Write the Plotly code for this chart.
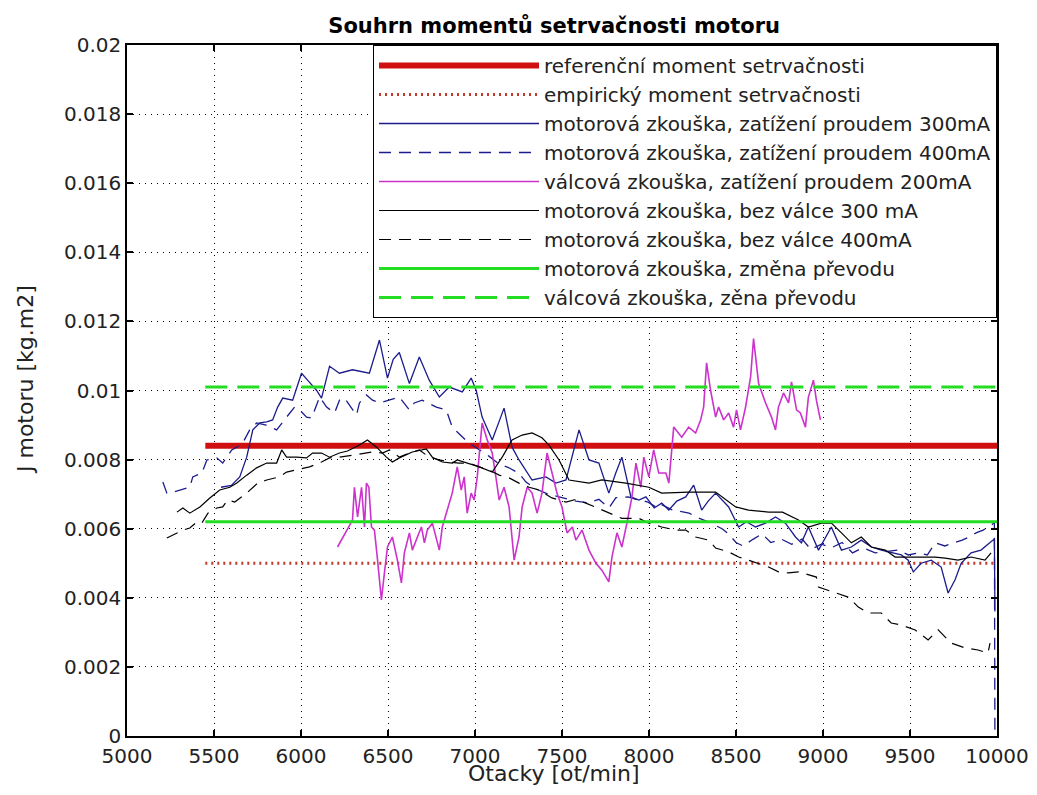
import plotly.graph_objects as go

# ---------------- data ----------------
ref_x = [5450, 10000]
ref_moment = [8.4e-3, 8.4e-3]            # referenční moment setrvačnosti
emp_moment = [5.0e-3, 5.0e-3]            # empirický moment setrvačnosti
motor_prevod = [6.2e-3, 6.2e-3]          # motorová zkouška, změna převodu
valec_prevod = [10.1e-3, 10.1e-3]        # válcová zkouška, zěna převodu

m300_x = [5540, 5600, 5648, 5688, 5723, 5763, 5803, 5837, 5866, 5895, 5952, 6003, 6038, 6090, 6118,
          6164, 6221, 6296, 6393, 6451, 6497, 6530, 6565, 6623, 6680, 6737, 6795, 6852, 6927, 6978,
          7007, 7041, 7099, 7167, 7213, 7253, 7328, 7408, 7465, 7523, 7598, 7655, 7712, 7769, 7809,
          7844, 7896, 7942, 7982, 8030, 8073, 8114, 8160, 8211, 8257, 8303, 8340, 8383, 8458, 8515,
          8560, 8612, 8670, 8727, 8784, 8842, 8876, 8916, 8974, 9048, 9106, 9163, 9220, 9278, 9335,
          9392, 9450, 9490, 9519, 9564, 9622, 9679, 9719, 9759, 9794, 9851, 9908, 9960, 9985, 9988]
m300_y = [7.2e-3, 7.25e-3, 7.5e-3, 8.07e-3, 8.86e-3, 9.06e-3, 9.09e-3, 9.15e-3, 9.52e-3, 9.78e-3,
          9.72e-3, 10.5e-3, 10.3e-3, 10.0e-3, 9.78e-3, 10.7e-3, 10.5e-3, 10.6e-3, 10.5e-3, 11.46e-3,
          10.36e-3, 10.9e-3, 11.1e-3, 10.2e-3, 10.97e-3, 10.3e-3, 9.81e-3, 10.1e-3, 9.96e-3, 10.36e-3,
          10.0e-3, 9.23e-3, 8.57e-3, 9.49e-3, 8.36e-3, 7.99e-3, 7.41e-3, 7.5e-3, 7.32e-3, 7.41e-3,
          8.86e-3, 7.99e-3, 7.9e-3, 7.03e-3, 7.61e-3, 8.07e-3, 6.92e-3, 6.83e-3, 6.92e-3, 6.6e-3,
          6.74e-3, 6.54e-3, 6.8e-3, 6.92e-3, 7.26e-3, 6.54e-3, 6.8e-3, 7.03e-3, 6.63e-3, 6.05e-3,
          6.2e-3, 6.05e-3, 6.16e-3, 6.34e-3, 6.16e-3, 5.76e-3, 5.59e-3, 6.05e-3, 5.38e-3, 6.05e-3,
          5.38e-3, 5.47e-3, 5.67e-3, 5.47e-3, 5.38e-3, 5.3e-3, 5.24e-3, 5.09e-3, 4.75e-3, 5.0e-3,
          5.09e-3, 4.89e-3, 4.14e-3, 4.52e-3, 5.0e-3, 5.3e-3, 5.38e-3, 5.6e-3, 5.7e-3, 3.6e-3]

m400_x = [5206, 5229, 5264, 5304, 5361, 5378, 5430, 5459, 5516, 5550, 5573, 5602, 5631, 5665, 5705,
          5745, 5800, 5860, 5917, 5963, 5992, 6032, 6061, 6107, 6147, 6193, 6221, 6250, 6319, 6336,
          6376, 6411, 6451, 6508, 6565, 6623, 6651, 6697, 6778, 6835, 6869, 6898, 6960, 7020, 7080,
          7130, 7200, 7253, 7293, 7350, 7420, 7500, 7580, 7650, 7712, 7770, 7810, 7880, 7940, 7990,
          8050, 8070, 8130, 8180, 8230, 8290, 8340, 8420, 8458, 8500, 8540, 8600, 8650, 8700, 8760,
          8820, 8880, 8930, 8990, 9050, 9110, 9170, 9230, 9300, 9370, 9432, 9490, 9550, 9600, 9645,
          9700, 9760, 9800, 9840, 9880, 9920, 9970, 9985, 9988]
m400_y = [7.35e-3, 7.03e-3, 7.06e-3, 7.12e-3, 7.2e-3, 7.5e-3, 7.61e-3, 7.99e-3, 8.05e-3, 7.9e-3,
          8.07e-3, 8.28e-3, 8.36e-3, 8.48e-3, 8.86e-3, 9.06e-3, 9.0e-3, 8.86e-3, 9.23e-3, 9.52e-3,
          9.44e-3, 9.23e-3, 9.2e-3, 9.81e-3, 9.52e-3, 9.35e-3, 9.72e-3, 9.78e-3, 9.29e-3, 9.64e-3,
          9.87e-3, 9.72e-3, 9.64e-3, 9.72e-3, 9.81e-3, 9.44e-3, 9.64e-3, 9.72e-3, 9.52e-3, 9.44e-3,
          8.94e-3, 8.8e-3, 8.5e-3, 8.3e-3, 8.1e-3, 7.9e-3, 7.75e-3, 7.6e-3, 7.35e-3, 7.15e-3,
          7.0e-3, 6.9e-3, 6.8e-3, 6.75e-3, 6.85e-3, 6.6e-3, 6.9e-3, 6.92e-3, 6.83e-3, 6.78e-3,
          6.6e-3, 6.7e-3, 6.55e-3, 6.5e-3, 6.45e-3, 6.3e-3, 6.2e-3, 6.0e-3, 5.85e-3, 5.6e-3,
          5.5e-3, 5.7e-3, 5.85e-3, 5.6e-3, 5.7e-3, 5.55e-3, 5.7e-3, 5.4e-3, 5.55e-3, 5.45e-3,
          5.6e-3, 5.3e-3, 5.45e-3, 5.3e-3, 5.35e-3, 5.38e-3, 5.24e-3, 5.3e-3, 5.24e-3, 5.59e-3,
          5.5e-3, 5.6e-3, 5.67e-3, 5.76e-3, 5.88e-3, 5.96e-3, 6.1e-3, 6.2e-3, 0.0]

v200_x = [6210, 6261, 6296, 6307, 6325, 6348, 6365, 6376, 6390, 6405, 6422, 6440, 6462, 6479, 6497,
          6525, 6554, 6577, 6594, 6623, 6640, 6669, 6692, 6709, 6726, 6755, 6778, 6795, 6812, 6841,
          6869, 6898, 6921, 6938, 6955, 6978, 6995, 7013, 7041, 7070, 7099, 7120, 7139, 7167, 7196,
          7225, 7253, 7271, 7300, 7328, 7357, 7385, 7414, 7443, 7471, 7500, 7529, 7560, 7580, 7615,
          7655, 7695, 7729, 7769, 7787, 7816, 7844, 7873, 7902, 7925, 7953, 7970, 7999, 8027, 8056,
          8097, 8114, 8142, 8188, 8228, 8268, 8297, 8314, 8331, 8354, 8383, 8400, 8429, 8458, 8486,
          8503, 8526, 8555, 8584, 8601, 8630, 8670, 8704, 8727, 8744, 8773, 8802, 8819, 8848, 8870,
          8899, 8916, 8945, 8962, 8985]
v200_y = [5.47e-3, 5.96e-3, 6.25e-3, 7.2e-3, 6.34e-3, 7.2e-3, 6.05e-3, 7.32e-3, 7.2e-3, 6.05e-3,
          5.96e-3, 5.09e-3, 3.94e-3, 4.7e-3, 5.47e-3, 5.76e-3, 5.09e-3, 4.43e-3, 5.3e-3, 5.88e-3,
          5.38e-3, 5.76e-3, 6.05e-3, 5.59e-3, 5.96e-3, 6.16e-3, 5.67e-3, 5.38e-3, 6.05e-3, 6.54e-3,
          7.03e-3, 7.79e-3, 7.12e-3, 7.5e-3, 6.45e-3, 7.03e-3, 6.83e-3, 7.5e-3, 9.06e-3, 8.57e-3,
          8.19e-3, 7.5e-3, 6.83e-3, 7.2e-3, 6.63e-3, 5.09e-3, 5.76e-3, 6.63e-3, 7.2e-3, 7.03e-3,
          6.45e-3, 7.03e-3, 8.19e-3, 7.61e-3, 7.03e-3, 6.63e-3, 5.88e-3, 6.05e-3, 5.67e-3, 5.96e-3,
          5.38e-3, 5.0e-3, 4.8e-3, 4.46e-3, 5.18e-3, 5.88e-3, 5.47e-3, 6.16e-3, 6.92e-3, 7.9e-3,
          7.2e-3, 8.07e-3, 7.5e-3, 8.28e-3, 7.61e-3, 7.61e-3, 7.32e-3, 8.94e-3, 8.65e-3, 8.94e-3,
          8.77e-3, 9.15e-3, 9.52e-3, 10.8e-3, 10.0e-3, 9.23e-3, 9.52e-3, 9.15e-3, 9.35e-3, 8.94e-3,
          9.44e-3, 8.86e-3, 9.52e-3, 10.4e-3, 11.5e-3, 10.2e-3, 9.64e-3, 9.23e-3, 8.86e-3, 9.52e-3,
          9.93e-3, 9.64e-3, 10.25e-3, 9.44e-3, 9.35e-3, 8.94e-3, 9.81e-3, 10.3e-3, 9.72e-3, 9.15e-3]

b300_x = [5287, 5321, 5361, 5419, 5476, 5533, 5591, 5631, 5688, 5745, 5803, 5860, 5889, 5917, 5975,
          6032, 6066, 6118, 6164, 6221, 6267, 6336, 6382, 6434, 6491, 6525, 6565, 6640, 6720, 6755,
          6812, 6869, 6898, 6960, 7024, 7099, 7160, 7213, 7271, 7328, 7385, 7425, 7483, 7540, 7655,
          7729, 7867, 7999, 8073, 8228, 8383, 8498, 8572, 8687, 8767, 8859, 8916, 8991, 9048, 9106,
          9163, 9220, 9278, 9358, 9415, 9490, 9564, 9645, 9702, 9776, 9851, 9931, 9966]
b300_y = [6.48e-3, 6.6e-3, 6.45e-3, 6.63e-3, 6.89e-3, 7.12e-3, 7.2e-3, 7.32e-3, 7.55e-3, 7.76e-3,
          7.9e-3, 7.9e-3, 8.28e-3, 8.07e-3, 8.07e-3, 8.05e-3, 8.19e-3, 8.19e-3, 8.07e-3, 8.19e-3,
          8.25e-3, 8.42e-3, 8.57e-3, 8.36e-3, 8.07e-3, 7.93e-3, 8.05e-3, 8.22e-3, 8.31e-3, 8.07e-3,
          7.93e-3, 7.9e-3, 7.99e-3, 7.9e-3, 7.79e-3, 7.64e-3, 8.1e-3, 8.57e-3, 8.71e-3, 8.77e-3,
          8.63e-3, 8.42e-3, 7.99e-3, 7.41e-3, 7.32e-3, 7.41e-3, 7.32e-3, 7.2e-3, 7.03e-3, 7.06e-3,
          7.06e-3, 6.63e-3, 6.54e-3, 6.48e-3, 6.48e-3, 6.25e-3, 6.05e-3, 6.16e-3, 6.16e-3, 5.88e-3,
          5.59e-3, 5.76e-3, 5.47e-3, 5.38e-3, 5.18e-3, 5.18e-3, 5.18e-3, 5.18e-3, 5.15e-3, 5.09e-3,
          5.18e-3, 5.09e-3, 5.3e-3]

b400_x = [5229, 5287, 5321, 5361, 5401, 5430, 5465, 5516, 5550, 5579, 5619, 5688, 5723, 5751, 5803,
          5877, 5917, 5975, 6049, 6118, 6164, 6221, 6296, 6353, 6411, 6468, 6508, 6565, 6623, 6680,
          6737, 6795, 6852, 6909, 6967, 7024, 7081, 7139, 7196, 7253, 7311, 7368, 7442, 7523, 7580,
          7637, 7729, 7844, 7942, 7999, 8073, 8154, 8211, 8268, 8343, 8383, 8458, 8515, 8572, 8630,
          8687, 8744, 8802, 8859, 8916, 8962, 8974, 9071, 9146, 9203, 9260, 9335, 9392, 9450, 9530,
          9604, 9662, 9736, 9817, 9891, 9948, 9960]
b400_y = [5.73e-3, 5.88e-3, 5.96e-3, 6.02e-3, 6.19e-3, 6.16e-3, 6.45e-3, 6.6e-3, 6.63e-3, 6.83e-3,
          6.77e-3, 7.03e-3, 7.18e-3, 7.32e-3, 7.41e-3, 7.5e-3, 7.64e-3, 7.7e-3, 7.79e-3, 7.93e-3,
          8.05e-3, 8.07e-3, 8.13e-3, 8.19e-3, 8.22e-3, 8.19e-3, 8.28e-3, 8.07e-3, 8.19e-3, 8.28e-3,
          8.07e-3, 7.99e-3, 7.93e-3, 7.9e-3, 7.9e-3, 7.79e-3, 7.7e-3, 7.55e-3, 7.47e-3, 7.32e-3,
          7.2e-3, 7.12e-3, 6.89e-3, 6.77e-3, 6.85e-3, 6.74e-3, 6.54e-3, 6.3e-3, 6.3e-3, 6.16e-3,
          6.05e-3, 5.96e-3, 5.96e-3, 5.76e-3, 5.67e-3, 5.44e-3, 5.33e-3, 5.18e-3, 5.09e-3, 5.0e-3,
          4.89e-3, 4.75e-3, 4.72e-3, 4.75e-3, 4.66e-3, 4.6e-3, 4.31e-3, 4.14e-3, 4.02e-3, 3.73e-3,
          3.56e-3, 3.56e-3, 3.27e-3, 3.21e-3, 3.07e-3, 2.78e-3, 3.07e-3, 2.69e-3, 2.55e-3, 2.49e-3,
          2.4e-3, 2.69e-3]

x_ticks = [5000, 5500, 6000, 6500, 7000, 7500, 8000, 8500, 9000, 9500, 10000]
x_tick_labels = ["5000", "5500", "6000", "6500", "7000", "7500", "8000", "8500", "9000", "9500", "10000"]
y_ticks = [0, 0.002, 0.004, 0.006, 0.008, 0.01, 0.012, 0.014, 0.016, 0.018, 0.02]
y_tick_labels = ["0", "0.002", "0.004", "0.006", "0.008", "0.01", "0.012", "0.014", "0.016", "0.018", "0.02"]

names = [
    "referenční moment setrvačnosti",
    "empirický moment setrvačnosti",
    "motorová zkouška, zatížení proudem 300mA",
    "motorová zkouška, zatížení proudem 400mA",
    "válcová zkouška, zatížení proudem 200mA",
    "motorová zkouška, bez válce 300 mA",
    "motorová zkouška, bez válce 400mA",
    "motorová zkouška, změna převodu",
    "válcová zkouška, zěna převodu",
]
title_text = "Souhrn momentů setrvačnosti motoru"
x_title = "Otacky [ot/min]"
y_title = "J motoru [kg.m2]"

# ---------------- figure ----------------
NAVY = "#1c1c8c"
fig = go.Figure()
fig.add_trace(go.Scatter(x=ref_x, y=ref_moment, mode="lines", name=names[0],
                         line=dict(color="#d01010", width=6)))
fig.add_trace(go.Scatter(x=ref_x, y=emp_moment, mode="lines", name=names[1],
                         line=dict(color="#c0392b", width=3, dash="2px,4px")))
fig.add_trace(go.Scatter(x=m300_x, y=m300_y, mode="lines", name=names[2],
                         line=dict(color=NAVY, width=1.3)))
fig.add_trace(go.Scatter(x=m400_x, y=m400_y, mode="lines", name=names[3],
                         line=dict(color=NAVY, width=1.3, dash="12px,8px")))
fig.add_trace(go.Scatter(x=v200_x, y=v200_y, mode="lines", name=names[4],
                         line=dict(color="#cc33cc", width=1.6)))
fig.add_trace(go.Scatter(x=b300_x, y=b300_y, mode="lines", name=names[5],
                         line=dict(color="black", width=1.2)))
fig.add_trace(go.Scatter(x=b400_x, y=b400_y, mode="lines", name=names[6],
                         line=dict(color="black", width=1.2, dash="12px,8px")))
fig.add_trace(go.Scatter(x=ref_x, y=motor_prevod, mode="lines", name=names[7],
                         line=dict(color="#22dd22", width=3)))
fig.add_trace(go.Scatter(x=ref_x, y=valec_prevod, mode="lines", name=names[8],
                         line=dict(color="#22dd22", width=3, dash="22px,10px")))

axis_common = dict(
    showline=True, linecolor="black", linewidth=1.5, mirror="ticks",
    ticks="inside", ticklen=6, tickcolor="black", tickwidth=1.5,
    showgrid=True, gridcolor="black", gridwidth=1, griddash="1px,5px",
    zeroline=False, automargin=False, ticklabeloverflow="allow",
    tickfont=dict(family="DejaVu Sans", size=20, color="#222"),
)

# The page keeps an 8 px body margin on every side, so the figure is sized to fit
# inside the 1037x795 window without scrolling; margins are fixed (no automargin).
W, H = 1021, 779
fig.update_layout(
    width=W, height=H,
    margin=dict(l=119, r=32, t=37, b=51, autoexpand=False),
    paper_bgcolor="white", plot_bgcolor="white",
    title=dict(text="<b>" + title_text + "</b>",
               font=dict(family="DejaVu Sans", size=21, color="black"),
               x=0.491, xref="paper", xanchor="center",
               y=1 - 18 / H, yref="container", yanchor="middle"),
    xaxis=dict(range=[5000, 10000], tickvals=x_ticks, ticktext=x_tick_labels,
               ticklabelstandoff=1, **axis_common),
    yaxis=dict(range=[0, 0.02], tickvals=y_ticks, ticktext=y_tick_labels,
               **axis_common),
    legend=dict(x=1, y=1, xanchor="right", yanchor="top",
                bgcolor="white", bordercolor="black", borderwidth=1,
                font=dict(family="DejaVu Sans", size=20, color="#222"),
                itemwidth=160, tracegroupgap=0),
    showlegend=True,
    annotations=[
        dict(text=x_title, xref="paper", yref="paper", x=0.491, y=-37 / 691,
             xanchor="center", yanchor="middle", showarrow=False,
             font=dict(family="DejaVu Sans", size=22, color="#222")),
        dict(text=y_title, xref="paper", yref="paper", x=-102 / 870, y=356 / 691,
             xanchor="center", yanchor="middle", textangle=-90, showarrow=False,
             font=dict(family="DejaVu Sans", size=22, color="#222")),
    ],
)

fig.write_html("out.html", config={"displayModeBar": False})
